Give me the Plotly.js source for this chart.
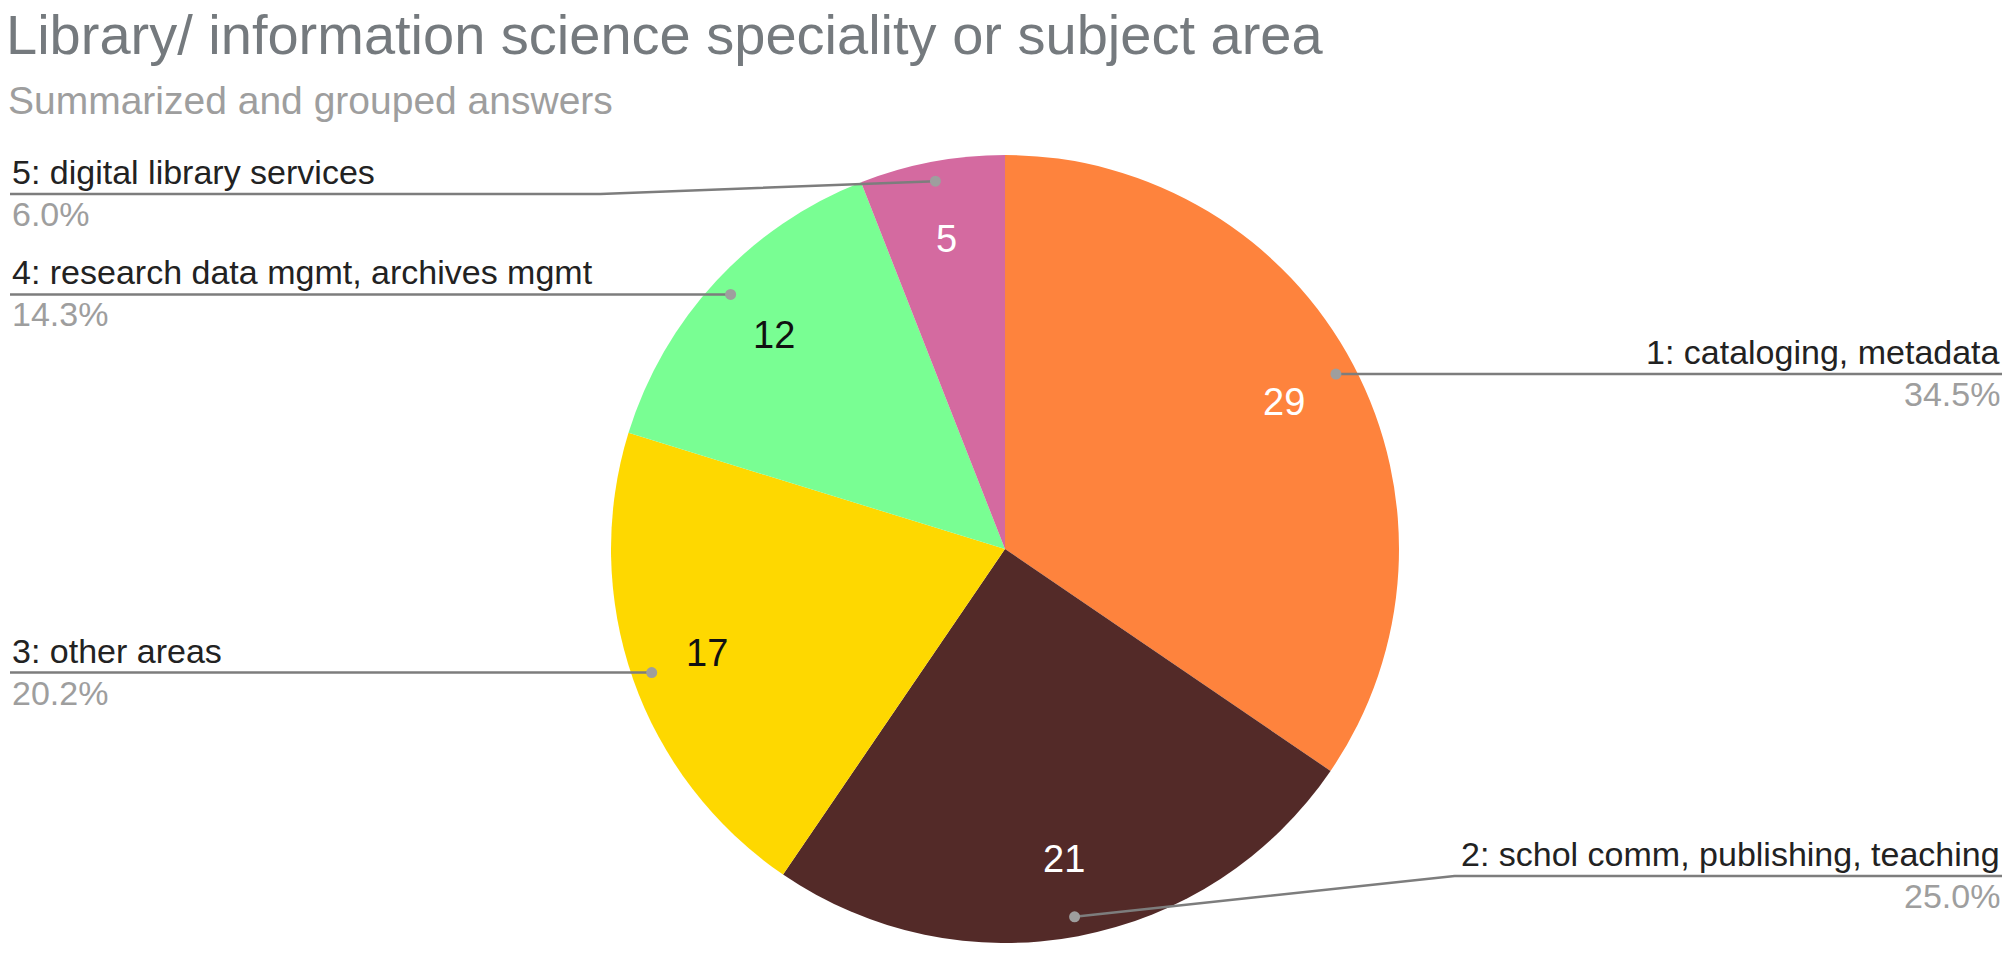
<!DOCTYPE html>
<html>
<head>
<meta charset="utf-8">
<script src="https://cdn.plot.ly/plotly-3.0.1.min.js"></script>
<style>
  html, body { margin: 0; padding: 0; background: #ffffff; }
  #chart { width: 2012px; height: 953px; }
</style>
</head>
<body>
<div id="chart"></div>
<script>
// ---- data ----
const categories = [
  '1: cataloging, metadata',
  '2: schol comm, publishing, teaching',
  '3: other areas',
  '4: research data mgmt, archives mgmt',
  '5: digital library services'
];
const counts = [29, 21, 17, 12, 5];
const sliceColors = ['#fe833d', '#532a28', '#fed800', '#79fe93', '#d46aa0'];
const valueFontColors = ['#ffffff', '#ffffff', '#111111', '#111111', '#ffffff'];
const chartTitle = 'Library/ information science speciality or subject area';
const chartSubtitle = 'Summarized and grouped answers';

// ---- layout constants (pixels) ----
const W = 2012, H = 953;
const CX = 1005, CY = 549, R = 394;
const FONT = 'Liberation Sans, Arial, Helvetica, sans-serif';
const px = x => x / W;
const py = y => 1 - y / H;

const total = counts.reduce((a, b) => a + b, 0);

const annotations = [];
const shapes = [];

annotations.push({
  xref: 'paper', yref: 'paper', x: px(6), y: py(100),
  xanchor: 'left', yanchor: 'middle', showarrow: false,
  text: chartSubtitle, font: { family: FONT, size: 39, color: '#9e9e9e' }
});

let cum = 0;
counts.forEach((v, i) => {
  const a = (cum + v / 2) / total * 2 * Math.PI;
  cum += v;
  const s = Math.sin(a), c = Math.cos(a);
  // value label inside slice
  annotations.push({
    xref: 'paper', yref: 'paper',
    x: px(CX + 0.8 * R * s), y: py(CY - 0.8 * R * c),
    xanchor: 'center', yanchor: 'middle', showarrow: false,
    text: String(v), font: { family: FONT, size: 38, color: valueFontColors[i] }
  });
  // leader dot
  const dx = CX + 0.95 * R * s, dy = CY - 0.95 * R * c;
  const right = s > 0;
  const lineY = Math.min(Math.max(dy, 194), 876);
  const edgeX = right ? 2002 : 10;
  let path;
  if (Math.abs(lineY - dy) < 2) {
    path = `M ${px(edgeX)} ${py(dy)} L ${px(dx)} ${py(dy)}`;
  } else {
    const bendX = right ? dx + 380 : dx - 335;
    path = `M ${px(edgeX)} ${py(lineY)} L ${px(bendX)} ${py(lineY)} L ${px(dx)} ${py(dy)}`;
  }
  const ly = Math.abs(lineY - dy) < 2 ? dy : lineY;
  shapes.push({
    type: 'path', xref: 'paper', yref: 'paper', path: path,
    line: { color: '#7d7d7d', width: 2.5 }
  });
  const rr = 5.5;
  shapes.push({
    type: 'circle', xref: 'paper', yref: 'paper',
    x0: px(dx - rr), x1: px(dx + rr), y0: py(dy + rr), y1: py(dy - rr),
    fillcolor: '#9e9e9e', line: { width: 0 }
  });
  annotations.push({
    xref: 'paper', yref: 'paper', x: px(edgeX), y: py(ly - 22),
    xanchor: right ? 'right' : 'left', yanchor: 'middle', showarrow: false,
    text: categories[i], font: { family: FONT, size: 34, color: '#222222' }
  });
  annotations.push({
    xref: 'paper', yref: 'paper', x: px(edgeX), y: py(ly + 20),
    xanchor: right ? 'right' : 'left', yanchor: 'middle', showarrow: false,
    text: (v / total * 100).toFixed(1) + '%',
    font: { family: FONT, size: 34, color: '#9e9e9e' }
  });
});

const trace = {
  type: 'pie',
  labels: categories,
  values: counts,
  sort: false,
  direction: 'clockwise',
  rotation: 0,
  textinfo: 'none',
  hoverinfo: 'label+value+percent',
  marker: { colors: sliceColors, line: { width: 0 } },
  domain: { x: [px(CX - R), px(CX + R)], y: [py(CY + R), py(CY - R)] },
  showlegend: false
};

const layout = {
  width: W, height: H,
  margin: { l: 0, r: 0, t: 0, b: 0 },
  paper_bgcolor: '#ffffff',
  showlegend: false,
  title: {
    text: chartTitle,
    x: px(6), xanchor: 'left', xref: 'paper',
    y: py(34), yanchor: 'middle', yref: 'container',
    font: { family: FONT, size: 56, color: '#757a7e' }
  },
  annotations: annotations,
  shapes: shapes
};

Plotly.newPlot('chart', [trace], layout, { displayModeBar: false, staticPlot: true });
</script>
</body>
</html>
